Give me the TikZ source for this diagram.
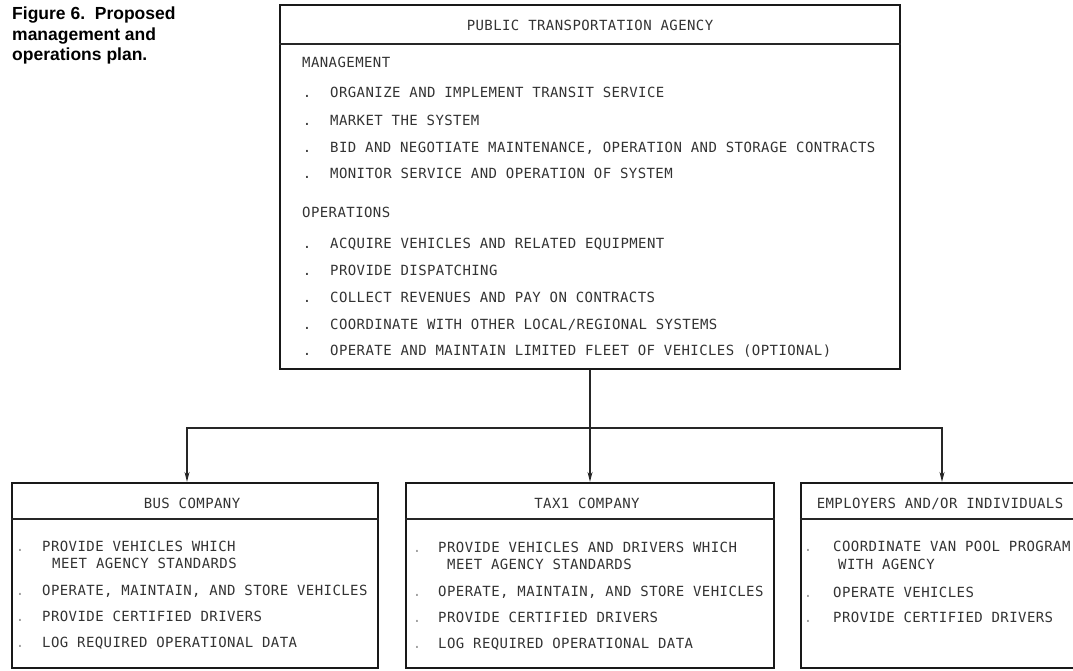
\documentclass[tikz,border=0pt]{standalone}
\usepackage{fontspec}
\setmainfont{Liberation Sans}
\newfontfamily\typefont{DejaVu Sans Mono}[LetterSpace=3]
\usetikzlibrary{positioning, arrows.meta}

\tikzset{
  box/.style={draw=black!90, line width=2.2pt, rectangle, inner sep=0pt},
  rule/.style={draw=black!85, line width=1.8pt},
  wire/.style={draw=black!85, line width=1.3pt},
  link/.style={wire, -{Stealth[length=10pt, width=5pt]}},
  item/.style={font=\typefont\fontsize{14}{14}\selectfont, text=black!80, inner sep=0pt, anchor=base west},
  head/.style={item, anchor=base},
  bullet/.style={item, anchor=base},
  faint/.style={bullet, text=black!40},
  caption/.style={font=\bfseries\fontsize{17.5}{20.5}\selectfont, align=left, inner sep=0pt},
}

\begin{document}
\begin{tikzpicture}[x=1pt, y=-1pt]
  \useasboundingbox (0,0) rectangle (1073,670);

  \node[caption, anchor=north west] (fig) at (12,7) {Figure 6.\ \ Proposed\\management and\\operations plan.};

  % agency box
  \node[box, minimum width=620pt, minimum height=364pt] (agency) at (590,187) {};
  \draw[rule] ([yshift=-40pt]agency.north west) -- ([yshift=-40pt]agency.north east);
  \node[head] (agencyt) at (590,30) {PUBLIC TRANSPORTATION AGENCY};
  \node[item] (mgmt) at (302,67) {MANAGEMENT};
  \foreach \y/\t [count=\i] in {97/{ORGANIZE AND IMPLEMENT TRANSIT SERVICE},
      125.5/{MARKET THE SYSTEM},
      152/{BID AND NEGOTIATE MAINTENANCE, OPERATION AND STORAGE CONTRACTS},
      178/{MONITOR SERVICE AND OPERATION OF SYSTEM}} {
    \node[bullet] at (307,\y) {.};
    \node[item] (m\i) at (330,\y) {\t};
  }
  \node[item] (ops) at (302,217) {OPERATIONS};
  \foreach \y/\t [count=\i] in {248/{ACQUIRE VEHICLES AND RELATED EQUIPMENT},
      275.5/{PROVIDE DISPATCHING},
      302/{COLLECT REVENUES AND PAY ON CONTRACTS},
      329/{COORDINATE WITH OTHER LOCAL/REGIONAL SYSTEMS},
      355/{OPERATE AND MAINTAIN LIMITED FLEET OF VEHICLES (OPTIONAL)}} {
    \node[bullet] at (307,\y) {.};
    \node[item] (o\i) at (330,\y) {\t};
  }

  % bus company
  \node[box, minimum width=366pt, minimum height=185pt] (bus) at (195,575.5) {};
  \draw[rule] ([yshift=-37pt]bus.north west) -- ([yshift=-37pt]bus.north east);
  \node[head] (bust) at (192,508) {BUS COMPANY};
  \node[item] (b1) at (42,551) {PROVIDE VEHICLES WHICH};
  \node[item] (b1a) at (52,568) {MEET AGENCY STANDARDS};
  \node[item] (b2) at (42,595) {OPERATE, MAINTAIN, AND STORE VEHICLES};
  \node[item] (b3) at (42,621) {PROVIDE CERTIFIED DRIVERS};
  \node[item] (b4) at (42,647) {LOG REQUIRED OPERATIONAL DATA};
  \foreach \y in {551,595,621,647} \node[faint] at (20,\y) {.};

  % taxi company
  \node[box, minimum width=368pt, minimum height=185pt] (taxi) at (590,575.5) {};
  \draw[rule] ([yshift=-37pt]taxi.north west) -- ([yshift=-37pt]taxi.north east);
  \node[head] (taxit) at (587,508) {TAX1 COMPANY};
  \node[item] (t1) at (438,552) {PROVIDE VEHICLES AND DRIVERS WHICH};
  \node[item] (t1a) at (447,569) {MEET AGENCY STANDARDS};
  \node[item] (t2) at (438,596) {OPERATE, MAINTAIN, AND STORE VEHICLES};
  \node[item] (t3) at (438,622) {PROVIDE CERTIFIED DRIVERS};
  \node[item] (t4) at (438,648) {LOG REQUIRED OPERATIONAL DATA};
  \foreach \y in {552,596,622,648} \node[faint] at (417,\y) {.};

  % employers
  \node[box, minimum width=282pt, minimum height=185pt] (employ) at (942,575.5) {};
  \draw[rule] ([yshift=-37pt]employ.north west) -- ([yshift=-37pt]employ.north east);
  \node[head] (employt) at (940,508) {EMPLOYERS AND/OR INDIVIDUALS};
  \node[item] (e1) at (833,551) {COORDINATE VAN POOL PROGRAM};
  \node[item] (e1a) at (838,569) {WITH AGENCY};
  \node[item] (e2) at (833,597) {OPERATE VEHICLES};
  \node[item] (e3) at (833,622) {PROVIDE CERTIFIED DRIVERS};
  \foreach \y in {551,597,622} \node[faint] at (808,\y) {.};

  % connectors
  \coordinate (split) at (590,428);
  \draw[wire] (agency.south) -- (split);
  \draw[link] (split) -| ([xshift=-8pt]bus.north);
  \draw[link] (split) -- (taxi.north);
  \draw[link] (split) -| (employ.north);
\end{tikzpicture}
\end{document}
